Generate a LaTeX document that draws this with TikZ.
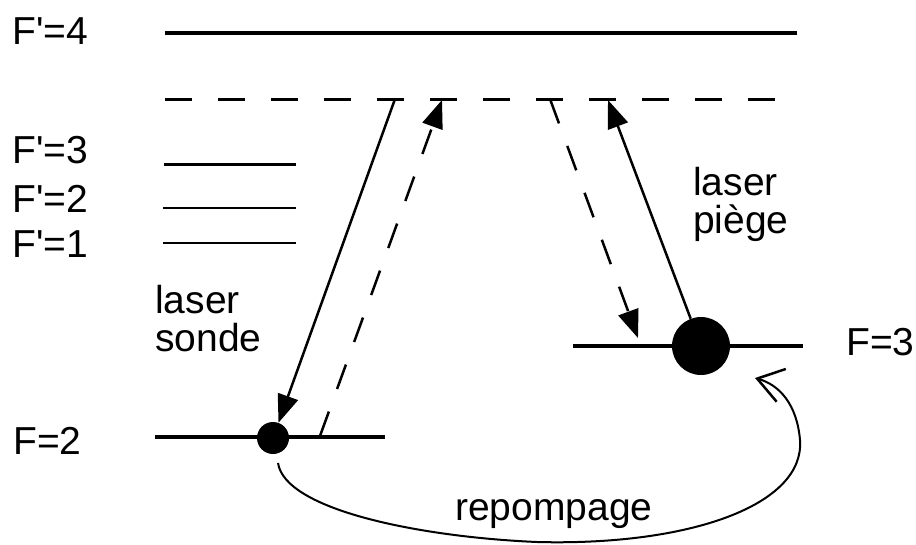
\documentclass[tikz,border=0pt]{standalone}
\usepackage{fontspec}
\setmainfont{Liberation Sans}
\usetikzlibrary{arrows.meta}
\begin{document}
\begin{tikzpicture}[x=1pt,y=-1pt,
  lbl/.style={anchor=base west,inner sep=0pt,font=\fontsize{39}{38}\selectfont},
  lvlthick/.style={line width=4.5pt},
  lvlthin/.style={line width=2pt},
  virt/.style={line width=3pt,dash pattern=on 27pt off 26pt},
  beam/.style={line width=2.5pt,-{Triangle[length=28pt,width=21pt]}},
  dbeam/.style={beam,dash pattern=on 26pt off 24pt},
  atom/.style={circle,fill=black,inner sep=0pt,minimum size=#1},
  pump/.style={line width=2pt,-{Straight Barb[length=25pt,width=34pt,line width=2.5pt]}}]
\useasboundingbox (0,0) rectangle (916,544);
% labels
\node[lbl] (l4) at (12,44) {F\textquotesingle=4};
\node[lbl] (l3) at (12,163) {F\textquotesingle=3};
\node[lbl] (l2) at (12,212) {F\textquotesingle=2};
\node[lbl] (l1) at (12,257) {F\textquotesingle=1};
\node[lbl] (lF3) at (846,355) {F=3};
\node[lbl] (lF2) at (13,454) {F=2};
\node[lbl,align=left] (ls) at (155,351) {laser\\sonde};
\node[lbl,align=left] (lp) at (693,233) {laser\\pi\`ege};
\node[lbl] (lr) at (455,520) {repompage};
% levels
\coordinate (a4) at (165,33); \coordinate (b4) at (797,33);
\draw[line width=4pt] (a4) -- (b4);
\coordinate (av) at (165,99); \coordinate (bv) at (782,99);
\draw[virt] (av) -- (bv);
\coordinate (a3) at (164,164); \coordinate (b3) at (296,164);
\draw[line width=3pt] (a3) -- (b3);
\coordinate (a2) at (163,208); \coordinate (b2) at (296,208);
\draw[lvlthin] (a2) -- (b2);
\coordinate (a1) at (163,243); \coordinate (b1) at (296,243);
\draw[lvlthin] (a1) -- (b1);
\coordinate (aF2) at (155,437); \coordinate (bF2) at (385,437);
\draw[lvlthick] (aF2) -- (bF2);
\coordinate (aF3) at (573,346); \coordinate (bF3) at (803,346);
\draw[lvlthick] (aF3) -- (bF3);
% atoms
\node[atom=32pt] (atA) at (273,438) {};
\node[atom=58pt] (atB) at (701,346) {};
% beams
\coordinate (s1) at (395,99);
\draw[beam] (s1) -- (atA);
\coordinate (s2) at (320,436); \coordinate (s3) at (442,100);
\draw[dbeam] (s2) -- (s3);
\coordinate (p1) at (550,99); \coordinate (p2) at (638,338);
\draw[dbeam] (p1) -- (p2);
\coordinate (p3) at (608,100);
\draw[beam] (atB) -- (p3);
% repumping
\coordinate (r0) at (278,463); \coordinate (r1) at (537,542);
\coordinate (r2) at (800,440); \coordinate (r3) at (755,378);
\draw[pump] (r0) .. controls (285,510) and (420,537) .. (r1)
  .. controls (690,546) and (805,505) .. (r2)
  .. controls (797,405) and (780,385) .. (r3);
\end{tikzpicture}
\end{document}
